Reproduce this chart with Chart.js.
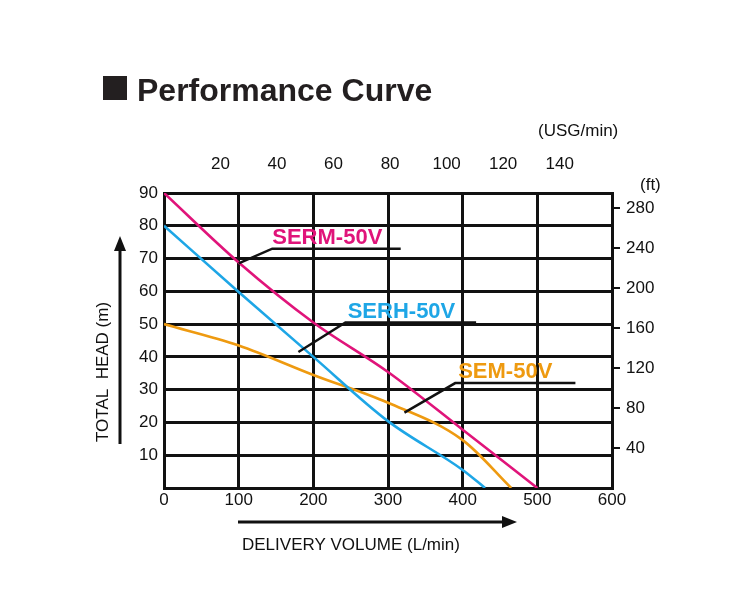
<!DOCTYPE html>
<html>
<head>
<meta charset="utf-8">
<title>Performance Curve</title>
<script src="https://cdn.jsdelivr.net/npm/chart.js@4/dist/chart.umd.min.js"></script>
<style>
  body { margin: 0; background: #fff; }
  #wrap { width: 750px; height: 600px; }
</style>
</head>
<body>
<div id="wrap"><canvas id="perfChart" width="750" height="600"></canvas></div>
<script>
// flow in L/min, head in m
var serm_flow = [0, 100, 200, 300, 400, 500];
var serm_head = [90, 68.8, 50.5, 35.4, 17.8, 0];
var serh_flow = [0, 100, 200, 300, 400, 430];
var serh_head = [80, 59.8, 40, 20.4, 5.5, 0];
var sem_flow = [0, 100, 200, 300, 400, 465];
var sem_head = [50, 43.5, 34.5, 26, 14.6, 0];

var series_names = ["SERM-50V", "SERH-50V", "SEM-50V"];
var series_colors = ["#e0147a", "#1ea6e6", "#ee9a10"];

var usg_ticks = [20, 40, 60, 80, 100, 120, 140];
var ft_ticks = [40, 80, 120, 160, 200, 240, 280];

var L_PER_USG = 3.785;
var FT_PER_M = 3.28084;
var FONT = "'Liberation Sans', Arial, sans-serif";

function pts(xs, ys) {
  var out = [];
  for (var i = 0; i < xs.length; i++) out.push({x: xs[i], y: ys[i]});
  return out;
}

var callouts = [
  {text: series_names[0], color: series_colors[0], from: [100, 68.5], elbow: [145, 73], end: [317, 73], tx: 145, ty: 74.5},
  {text: series_names[1], color: series_colors[1], from: [180, 41.5], elbow: [243, 50.5], end: [418, 50.5], tx: 246, ty: 52},
  {text: series_names[2], color: series_colors[2], from: [322, 23], elbow: [390, 32], end: [551, 32], tx: 394, ty: 33.5}
];

var decor = {
  id: 'decor',
  afterDraw: function (chart) {
    var c = chart.ctx, xs = chart.scales.x, ys = chart.scales.y;
    c.save();
    c.fillStyle = '#231f20';
    c.fillRect(103, 76, 24, 24);
    c.font = 'bold 32px ' + FONT;
    c.textBaseline = 'alphabetic';
    c.textAlign = 'left';
    c.fillText('Performance Curve', 137, 101);
    c.font = '17px ' + FONT;
    c.fillStyle = '#111';
    c.fillText('(USG/min)', 538, 136);
    c.fillText('(ft)', 640, 190);
    callouts.forEach(function (k) {
      c.strokeStyle = '#111';
      c.lineWidth = 2.5;
      c.beginPath();
      c.moveTo(xs.getPixelForValue(k.from[0]), ys.getPixelForValue(k.from[1]));
      c.lineTo(xs.getPixelForValue(k.elbow[0]), ys.getPixelForValue(k.elbow[1]));
      c.lineTo(xs.getPixelForValue(k.end[0]), ys.getPixelForValue(k.end[1]));
      c.stroke();
      c.font = 'bold 22px ' + FONT;
      c.fillStyle = k.color;
      c.fillText(k.text, xs.getPixelForValue(k.tx), ys.getPixelForValue(k.ty));
    });
    c.fillStyle = '#111';
    c.strokeStyle = '#111';
    c.lineWidth = 3;
    c.beginPath(); c.moveTo(238, 522); c.lineTo(505, 522); c.stroke();
    c.beginPath(); c.moveTo(517, 522); c.lineTo(502, 516); c.lineTo(502, 528); c.closePath(); c.fill();
    c.font = '17px ' + FONT;
    c.fillText('DELIVERY VOLUME (L/min)', 242, 550);
    c.beginPath(); c.moveTo(120, 444); c.lineTo(120, 248); c.stroke();
    c.beginPath(); c.moveTo(120, 236); c.lineTo(114, 251); c.lineTo(126, 251); c.closePath(); c.fill();
    c.translate(108, 442);
    c.rotate(-Math.PI / 2);
    c.fillText('TOTAL  HEAD (m)', 0, 0);
    c.restore();
  }
};

var tickFont = {family: FONT, size: 17};

new Chart(document.getElementById('perfChart'), {
  type: 'line',
  data: {
    datasets: [
      {label: series_names[0], data: pts(serm_flow, serm_head), borderColor: series_colors[0]},
      {label: series_names[1], data: pts(serh_flow, serh_head), borderColor: series_colors[1]},
      {label: series_names[2], data: pts(sem_flow, sem_head), borderColor: series_colors[2]}
    ]
  },
  options: {
    responsive: false,
    animation: false,
    layout: {padding: 0},
    elements: {
      point: {radius: 0},
      line: {borderWidth: 2.6, cubicInterpolationMode: 'monotone', fill: false}
    },
    plugins: {legend: {display: false}, tooltip: {enabled: false}},
    scales: {
      x: {
        type: 'linear', position: 'bottom', min: 0, max: 600,
        ticks: {stepSize: 100, color: '#111', font: tickFont, padding: 2},
        grid: {color: '#111', lineWidth: 3, drawTicks: false},
        border: {color: '#111', width: 3},
        afterFit: function (s) { s.height = 112; }
      },
      x2: {
        type: 'linear', position: 'top', min: 0, max: 600 / L_PER_USG,
        afterBuildTicks: function (s) { s.ticks = usg_ticks.map(function (v) { return {value: v}; }); },
        ticks: {color: '#111', font: tickFont, padding: 10, autoSkip: false},
        grid: {display: false},
        border: {display: false},
        afterFit: function (s) { s.height = 193; }
      },
      y: {
        type: 'linear', position: 'left', min: 0, max: 90,
        ticks: {stepSize: 10, color: '#111', font: tickFont, padding: 6,
          callback: function (v) { return v > 0 ? v : ''; }},
        grid: {color: '#111', lineWidth: 3, drawTicks: false},
        border: {color: '#111', width: 3},
        afterFit: function (s) { s.width = 164; }
      },
      y2: {
        type: 'linear', position: 'right', min: 0, max: 90 * FT_PER_M,
        afterBuildTicks: function (s) { s.ticks = ft_ticks.map(function (v) { return {value: v}; }); },
        ticks: {color: '#111', font: tickFont, padding: 6, autoSkip: false},
        grid: {display: true, drawOnChartArea: false, color: '#111', lineWidth: 2, tickLength: 8},
        border: {color: '#111', width: 3},
        afterFit: function (s) { s.width = 138; }
      }
    }
  },
  plugins: [decor]
});
</script>
</body>
</html>
